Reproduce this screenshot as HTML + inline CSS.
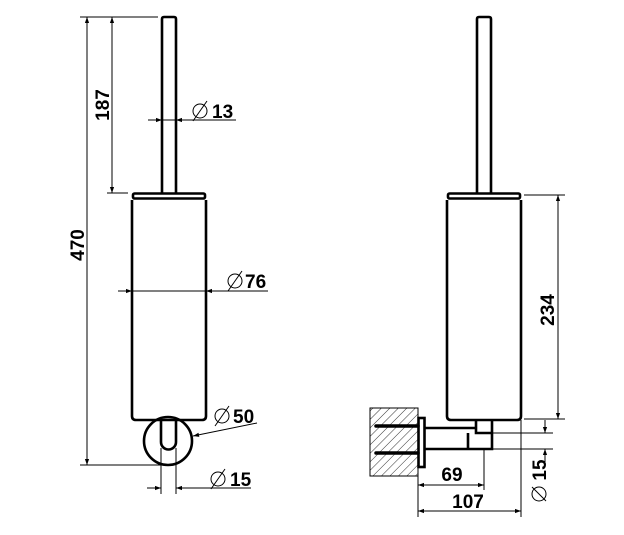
<!DOCTYPE html>
<html><head><meta charset="utf-8"><style>
html,body{margin:0;padding:0;background:#fff;}
svg{display:block;}
text{font-family:"Liberation Sans",Arial,sans-serif;font-weight:bold;font-size:19px;fill:#000;}
</style></head><body>
<svg width="624" height="535" viewBox="0 0 624 535" xmlns="http://www.w3.org/2000/svg">
<defs>
<marker id="a" viewBox="0 0 10 10" refX="10" refY="5" markerWidth="12" markerHeight="6" markerUnits="userSpaceOnUse" orient="auto-start-reverse"><path d="M0,1.5L10,5L0,8.5z" fill="#000"/></marker>
<pattern id="h" width="6" height="6" patternUnits="userSpaceOnUse" patternTransform="rotate(45)"><line x1="0" y1="0" x2="0" y2="6" stroke="#000" stroke-width="0.8"/></pattern>
</defs>
<g fill="none" stroke="#000">
<g stroke-width="2.6">
<path d="M162,194V19q0-2 2-2h10q2,0 2,2V194"/>
<rect x="133" y="193.5" width="72" height="5" rx="1.5"/>
<path d="M132,200V416q0,4 4,4H202q4,0 4-4V200"/>
<circle cx="168" cy="441" r="24"/>
<path d="M161,421V442a7.5,7.5 0 0 0 15,0V421"/>
</g>
<g stroke-width="1">
<line x1="80" y1="17" x2="158" y2="17"/>
<line x1="80" y1="465" x2="168" y2="465"/>
<line x1="87" y1="17" x2="87" y2="465" marker-start="url(#a)" marker-end="url(#a)"/>
<line x1="107" y1="193" x2="128" y2="193"/>
<line x1="112" y1="17" x2="112" y2="193" marker-start="url(#a)" marker-end="url(#a)"/>
<line x1="148" y1="120" x2="162" y2="120" marker-end="url(#a)"/>
<line x1="162" y1="120" x2="176" y2="120"/>
<line x1="236" y1="120" x2="176" y2="120" marker-end="url(#a)"/>
<line x1="118" y1="291" x2="132" y2="291" marker-end="url(#a)"/>
<line x1="132" y1="291" x2="206" y2="291"/>
<line x1="268" y1="291" x2="206" y2="291" marker-end="url(#a)"/>
<line x1="257" y1="423" x2="193" y2="436" marker-end="url(#a)"/>
<line x1="161" y1="448" x2="161" y2="494"/>
<line x1="176" y1="448" x2="176" y2="494"/>
<line x1="147" y1="488" x2="161" y2="488" marker-end="url(#a)"/>
<line x1="251" y1="488" x2="176" y2="488" marker-end="url(#a)"/>
</g>
<g stroke-width="2.6">
<path d="M477,194V19q0-2 2-2h10q2,0 2,2V194"/>
<rect x="448" y="193.5" width="72" height="5" rx="1.5"/>
<path d="M447,200V416q0,4 4,4H517q4,0 4-4V200"/>
<rect x="418.5" y="418" width="6" height="49"/>
<path d="M425,428H476V420M425,449H492V420M476,428V433H492M468,433V449"/>
</g>
<rect x="370" y="408" width="48" height="68" fill="url(#h)" stroke-width="1"/>
<g stroke-width="3.5" stroke-linecap="round">
<line x1="376" y1="426" x2="418" y2="426"/>
<line x1="376" y1="453" x2="418" y2="453"/>
</g>
<g stroke-width="1">
<line x1="524" y1="195" x2="565" y2="195"/>
<line x1="524" y1="419" x2="565" y2="419"/>
<line x1="558" y1="195" x2="558" y2="419" marker-start="url(#a)" marker-end="url(#a)"/>
<line x1="480" y1="433" x2="553" y2="433"/>
<line x1="484" y1="449" x2="553" y2="449"/>
<line x1="545" y1="420" x2="545" y2="433" marker-end="url(#a)"/>
<line x1="545" y1="462" x2="545" y2="449" marker-end="url(#a)"/>
<line x1="484" y1="449" x2="484" y2="490"/>
<line x1="418" y1="467" x2="418" y2="517"/>
<line x1="521" y1="420" x2="521" y2="517"/>
<line x1="418" y1="485" x2="484" y2="485" marker-start="url(#a)" marker-end="url(#a)"/>
<line x1="418" y1="511" x2="521" y2="511" marker-start="url(#a)" marker-end="url(#a)"/>
</g>
</g>
<text x="212" y="118">13</text>
<text x="245" y="288">76</text>
<text x="233" y="423">50</text>
<text x="230" y="486">15</text>
<text transform="translate(84,245) rotate(-90)" text-anchor="middle">470</text>
<text transform="translate(109,105) rotate(-90)" text-anchor="middle">187</text>
<text transform="translate(554,310) rotate(-90)" text-anchor="middle">234</text>
<text transform="translate(546,470) rotate(-90)" text-anchor="middle">15</text>
<text x="452" y="481" text-anchor="middle">69</text>
<text x="468" y="508" text-anchor="middle">107</text>
<g fill="none" stroke="#000" stroke-width="1">
<circle cx="200" cy="111" r="7"/><line x1="193" y1="121" x2="207" y2="101"/>
<circle cx="235" cy="281" r="7"/><line x1="228" y1="291" x2="242" y2="271"/>
<circle cx="222" cy="416" r="7"/><line x1="215" y1="426" x2="229" y2="406"/>
<circle cx="218" cy="479" r="7"/><line x1="211" y1="489" x2="225" y2="469"/>
<circle cx="539" cy="494" r="7"/><line x1="532" y1="487" x2="546" y2="501"/>
</g>
</svg>
</body></html>
